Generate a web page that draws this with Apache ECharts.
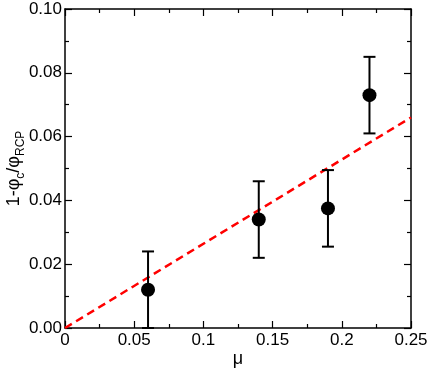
<!DOCTYPE html>
<html><head><meta charset="utf-8">
<script src="https://cdn.jsdelivr.net/npm/echarts@6/dist/echarts.min.js"></script>
<style>html,body{margin:0;padding:0;background:#fff}#c{width:429px;height:369px}</style>
</head><body><div id="c"></div>
<script>
const muValues = [0.06, 0.14, 0.19, 0.22];
const phiValues = [0.012, 0.034, 0.0375, 0.073];
const errValues = [0.012, 0.012, 0.012, 0.012];
const fitLine = [[0, 0], [0.25, 0.066]];
const xTicks = { min: 0, max: 0.25, interval: 0.05 };
const yTicks = { min: 0, max: 0.10, interval: 0.02 };

const font = 'Liberation Sans, Arial, sans-serif';
const points = muValues.map((m, i) => [m, phiValues[i]]);
const errData = muValues.map((m, i) => [m, phiValues[i] - errValues[i], phiValues[i] + errValues[i]]);

function xfmt(v){ if (v === 0) return '0'; return String(+v.toFixed(2)); }
function yfmt(v){ return v.toFixed(2); }

const axisLine = { show: true, onZero: false, lineStyle: { color: '#000', width: 1.5 } };
const tickIn = { show: true, inside: true, length: 7, lineStyle: { color: '#000', width: 1.2 } };
const minorIn = { show: true, splitNumber: 2, length: 4, lineStyle: { color: '#000', width: 1.2 } };

const chart = echarts.init(document.getElementById('c'));
chart.setOption({
  animation: false,
  grid: { left: 65, right: 18, top: 9, bottom: 41, containLabel: false, outerBoundsMode: 'none' },
  xAxis: [
    { type: 'value', min: xTicks.min, max: xTicks.max, interval: xTicks.interval,
      axisLine, axisTick: tickIn, minorTick: minorIn, splitLine: { show: false },
      axisLabel: { formatter: xfmt, color: '#000', fontFamily: font, fontSize: 17, margin: 4 },
      name: 'μ', nameLocation: 'middle', nameGap: 22, nameMoveOverlap: false,
      nameTextStyle: { color: '#000', fontFamily: font, fontSize: 18 } },
    { type: 'value', position: 'top', min: xTicks.min, max: xTicks.max, interval: xTicks.interval,
      axisLine, axisTick: tickIn, minorTick: minorIn, splitLine: { show: false },
      axisLabel: { show: false } }
  ],
  yAxis: [
    { type: 'value', min: yTicks.min, max: yTicks.max, interval: yTicks.interval,
      axisLine, axisTick: tickIn, minorTick: minorIn, splitLine: { show: false },
      axisLabel: { formatter: yfmt, color: '#000', fontFamily: font, fontSize: 17, margin: 3 },
      name: '{n|1-φ}{s|c}{n|/φ}{s|RCP}', nameLocation: 'middle', nameGap: 42, nameRotate: 90, nameMoveOverlap: false,
      nameTextStyle: { color: '#000', fontFamily: font,
        rich: { n: { fontSize: 18, fontFamily: font, color: '#000', verticalAlign: 'bottom' },
                s: { fontSize: 12, fontFamily: font, color: '#000', verticalAlign: 'bottom', padding: [0,0,-4,0] } } } },
    { type: 'value', position: 'right', min: yTicks.min, max: yTicks.max, interval: yTicks.interval,
      axisLine, axisTick: tickIn, minorTick: minorIn, splitLine: { show: false },
      axisLabel: { show: false } }
  ],
  series: [
    { type: 'line', data: fitLine, symbol: 'none', silent: true,
      lineStyle: { color: '#ff0000', width: 2.5, type: [8, 5] }, z: 3 },
    { type: 'custom', data: errData, z: 4,
      renderItem: function (params, api) {
        const x = api.value(0);
        const lo = api.coord([x, api.value(1)]);
        const hi = api.coord([x, api.value(2)]);
        const cw = 6;
        const st = { stroke: '#000', lineWidth: 2 };
        return { type: 'group', children: [
          { type: 'line', shape: { x1: lo[0], y1: lo[1], x2: hi[0], y2: hi[1] }, style: st },
          { type: 'line', shape: { x1: lo[0]-cw, y1: lo[1], x2: lo[0]+cw, y2: lo[1] }, style: st },
          { type: 'line', shape: { x1: hi[0]-cw, y1: hi[1], x2: hi[0]+cw, y2: hi[1] }, style: st }
        ]};
      } },
    { type: 'scatter', data: points, symbol: 'circle', symbolSize: 14, z: 5,
      itemStyle: { color: '#000', opacity: 1 } }
  ]
});
</script></body></html>
